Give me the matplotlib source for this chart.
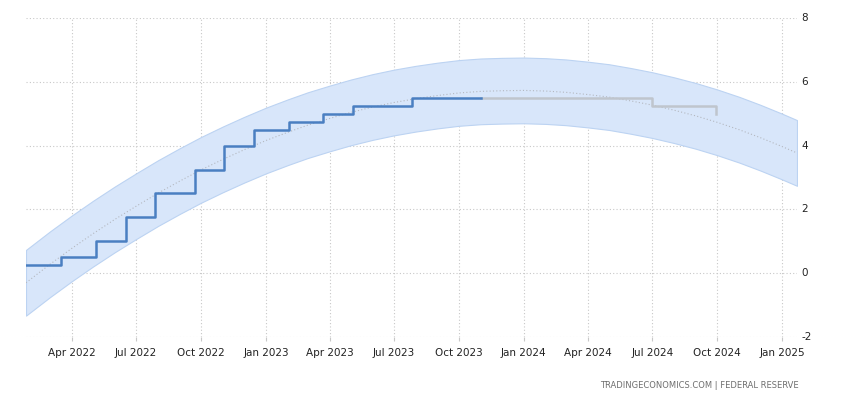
import numpy as np
import pandas as pd
import matplotlib
matplotlib.use('Agg')
from matplotlib import pyplot as plt
import matplotlib.dates as mdates

plt.rcParams['axes.unicode_minus'] = False

# Fed funds rate (upper bound), step changes
rate_dates = pd.to_datetime([
    '2022-01-26', '2022-03-17', '2022-05-05', '2022-06-16', '2022-07-28',
    '2022-09-22', '2022-11-03', '2022-12-15', '2023-02-02', '2023-03-23',
    '2023-05-04', '2023-07-27', '2023-11-01',
])
rate_values = [0.25, 0.5, 1.0, 1.75, 2.5, 3.25, 4.0, 4.5, 4.75, 5.0, 5.25, 5.5, 5.5]

# forecast
fc_dates = pd.to_datetime(['2023-11-01', '2024-06-30', '2024-09-30'])
fc_values = [5.5, 5.25, 5.0]

# trend line (monthly)
trend_dates = pd.to_datetime([
    '2022-01-26', '2022-03-01', '2022-04-01', '2022-05-01', '2022-06-01', '2022-07-01',
    '2022-08-01', '2022-09-01', '2022-10-01', '2022-11-01', '2022-12-01', '2023-01-01',
    '2023-02-01', '2023-03-01', '2023-04-01', '2023-05-01', '2023-06-01', '2023-07-01',
    '2023-08-01', '2023-09-01', '2023-10-01', '2023-11-01', '2023-12-01', '2024-01-01',
    '2024-02-01', '2024-03-01', '2024-04-01', '2024-05-01', '2024-06-01', '2024-07-01',
    '2024-08-01', '2024-09-01', '2024-10-01', '2024-11-01', '2024-12-01', '2025-01-01',
    '2025-01-22',
])
trend_values = [
    -0.30, 0.28, 0.78, 1.24, 1.69, 2.10,
    2.51, 2.89, 3.24, 3.57, 3.87, 4.16,
    4.42, 4.64, 4.85, 5.04, 5.21, 5.35,
    5.47, 5.57, 5.65, 5.70, 5.72, 5.73,
    5.71, 5.67, 5.60, 5.52, 5.40, 5.27,
    5.11, 4.93, 4.73, 4.50, 4.25, 3.97,
    3.77,
]
band_width = 1.03

fig = plt.figure(figsize=(8.5, 4), dpi=100)
ax = fig.add_axes([0.0306, 0.1575, 0.907, 0.7975])

trend = np.array(trend_values)
ax.fill_between(trend_dates, trend - band_width, trend + band_width,
                facecolor='#d8e6fa', edgecolor='#bcd3f2', linewidth=0.8, zorder=1)
ax.plot(trend_dates, trend, color='#b4b8c0', linestyle=(0, (1, 2)), linewidth=0.8, zorder=2)

ax.plot(fc_dates, fc_values, drawstyle='steps-post', color='#bfc5cd', linewidth=1.8, zorder=3)
ax.plot(rate_dates, rate_values, drawstyle='steps-post', color='#4a7fc1', linewidth=1.8, zorder=4)

ax.set_xlim(pd.Timestamp('2022-01-26'), pd.Timestamp('2025-01-22'))
ax.set_ylim(-2, 8)
ax.set_yticks([-2, 0, 2, 4, 6, 8])

ax.xaxis.set_major_locator(mdates.MonthLocator(bymonth=[1, 4, 7, 10]))
ax.xaxis.set_major_formatter(mdates.DateFormatter('%b %Y'))

ax.yaxis.tick_right()
ax.tick_params(axis='y', length=0, pad=3, labelsize=7.5, labelcolor='#222222')
ax.tick_params(axis='x', length=3, color='#c8c8c8', pad=5, labelsize=7.5, labelcolor='#222222')
for lbl in ax.get_yticklabels():
    lbl.set_verticalalignment('center')

ax.grid(True, color='#c8c8c8', linestyle=(0, (1, 2)), linewidth=0.8)
ax.set_axisbelow(True)
for s in ax.spines.values():
    s.set_visible(False)

fig.text(0.94, 0.035, 'TRADINGECONOMICS.COM | FEDERAL RESERVE', ha='right', va='center',
         fontsize=6, color='#6f6f6f')

fig.savefig('out.png', dpi=100)
